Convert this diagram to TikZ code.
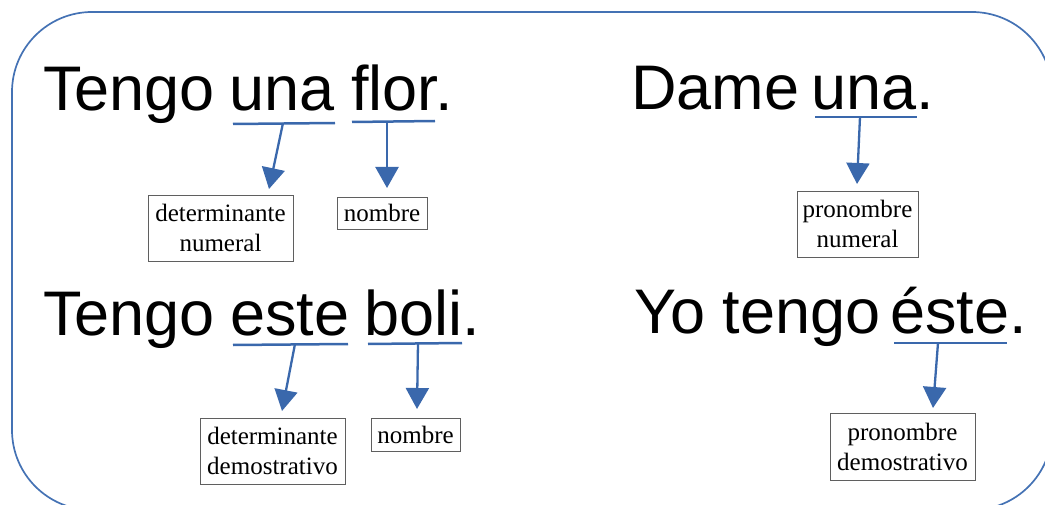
\documentclass[tikz,border=0pt]{standalone}
\usepackage{fontspec}
\setmainfont{Liberation Serif}
\newfontfamily\bigsans{Liberation Sans}
\usetikzlibrary{arrows.meta}
\definecolor{frameblue}{RGB}{68,114,180}
\definecolor{arrowblue}{RGB}{58,104,172}
\definecolor{boxgray}{RGB}{95,95,95}
\begin{document}
\begin{tikzpicture}[x=1pt,y=-1pt,
  word/.style={inner sep=0pt, anchor=base west, font=\bigsans\fontsize{63}{63}\selectfont},
  tagbox/.style={draw=boxgray, line width=0.9pt, inner sep=0pt, align=center, font=\fontsize{25}{30}\selectfont},
  uline/.style={draw=arrowblue, line width=2.5pt},
  pointer/.style={draw=arrowblue, line width=2.3pt, -{Triangle[width=23pt,length=21pt]}},
  outline/.style={draw=frameblue, line width=1.7pt, rounded corners=80pt}]
\useasboundingbox (0,0) rectangle (1045,505);
\draw[outline] (12,12) rectangle (1052,510);

% Row 1 left
\node[word] (w11) at (43,111) {Tengo};
\node[word] (w12) at (229,111) {una};
\node[word] (w13) at (351,111) {flor.};
% Row 1 right
\node[word] (w14) at (631,110) {Dame};
\node[word] (w15) at (811,110) {una.};
% Row 2 left
\node[word] (w21) at (43,335) {Tengo};
\node[word] (w22) at (230,335) {este};
\node[word] (w23) at (364,335) {boli.};
% Row 2 right
\node[word] (w24) at (634,334) {Yo tengo};
\node[word] (w25) at (890,334) {éste.};

% boxes
\node[tagbox, minimum width=145pt, minimum height=66pt] (b1) at (220.5,228) {determinante\\numeral};
\node[tagbox, minimum width=90pt, minimum height=32pt] (b2) at (382,213) {nombre};
\node[tagbox, minimum width=121pt, minimum height=66pt] (b3) at (857.5,224) {pronombre\\numeral};
\node[tagbox, minimum width=145pt, minimum height=66pt] (b4) at (272.5,451) {determinante\\demostrativo};
\node[tagbox, minimum width=89pt, minimum height=33pt] (b5) at (415.5,434.5) {nombre};
\node[tagbox, minimum width=145pt, minimum height=67pt] (b6) at (902.5,446.5) {pronombre\\demostrativo};

% underline coordinates
\coordinate (u1a) at (233,124); \coordinate (u1b) at (335,123);
\coordinate (u2a) at (352,122); \coordinate (u2b) at (435,121);
\coordinate (u3a) at (815,117); \coordinate (u3b) at (917,117);
\coordinate (u4a) at (233,345); \coordinate (u4b) at (348,344);
\coordinate (u5a) at (368,344); \coordinate (u5b) at (462,343);
\coordinate (u6a) at (894,343); \coordinate (u6b) at (1007,343);
\foreach \i in {1,...,6} {\draw[uline] (u\i a) -- (u\i b);}

% arrow start/end
\coordinate (s1) at (283,123); \coordinate (t1) at (269,189);
\coordinate (s2) at (387,122); \coordinate (t2) at (387,188);
\coordinate (s3) at (860,117); \coordinate (t3) at (857,184);
\coordinate (s4) at (295,344); \coordinate (t4) at (282,411);
\coordinate (s5) at (418,343); \coordinate (t5) at (417,409);
\coordinate (s6) at (938,343); \coordinate (t6) at (933,408);
\foreach \i in {1,...,6} {\draw[pointer] (s\i) -- (t\i);}
\end{tikzpicture}
\end{document}
